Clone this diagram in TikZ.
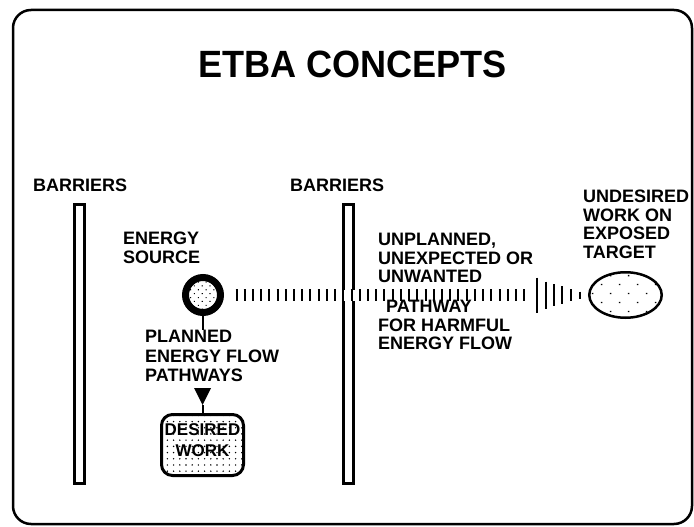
\documentclass[tikz,border=0pt]{standalone}
\usepackage{fontspec}
\setmainfont{Liberation Sans}
\usetikzlibrary{shapes.geometric,patterns.meta}
\tikzset{
  lbl/.style={anchor=north west, inner sep=0pt, align=left, font=\bfseries\fontsize{18}{18.5}\selectfont},
  barrier/.style={draw, line width=2.5pt, fill=white, minimum width=10pt, minimum height=279pt, inner sep=0pt},
  tickrow/.style={line width=12pt, dash pattern=on 2pt off 6.22pt},
  tickmark/.style={line width=2pt},
  frame/.style={line width=2.5pt, rounded corners=18pt},
}
\begin{document}
\begin{tikzpicture}[x=1pt,y=-1pt]
\useasboundingbox (0,0) rectangle (694,527);
\draw[frame] (13,10) rectangle (692,524);
\node[font=\bfseries\fontsize{38}{40}\selectfont, inner sep=0pt] (title) at (352.5,64) {\scalebox{0.95}[1]{ETBA CONCEPTS}};

% barriers
\node[barrier] (bar1) at (79.5,344) {};
\node[barrier] (bar2) at (348.5,344) {};
\node[lbl] (b1) at (33,179) {BARRIERS};
\node[lbl] (b2) at (290,179) {BARRIERS};

% energy source
\node[draw, circle, line width=7pt, minimum size=35pt, inner sep=0pt,
      pattern={Dots[distance=5.5pt,radius=0.75pt,angle=45]}] (src) at (203,295) {};
\node[lbl] (es) at (123,232) {ENERGY\\SOURCE};

% planned pathway
\node[lbl, font=\bfseries\fontsize{18}{19.5}\selectfont] (plan) at (145,330) {PLANNED\\ENERGY FLOW\\PATHWAYS};
\draw[line width=2pt] (src.south) -- (src.south |- plan.north);

% desired work
\node[draw, rectangle, rounded corners=11pt, line width=3pt, minimum width=82pt, minimum height=61pt,
      inner sep=0pt, pattern={Dots[distance=6.2pt,radius=0.8pt]}] (des) at (202.5,445) {};
\node[inner sep=0pt, align=center, font=\bfseries\fontsize{17}{21}\selectfont] (destext) at ([yshift=5pt]des.center) {DESIRED\\WORK};
\coordinate (ptop) at (202.5,388);
\coordinate (ptip) at (202.5,405);
\fill ([xshift=-8.5pt]ptop) -- ([xshift=8.5pt]ptop) -- (ptip) -- cycle;
\draw[line width=2pt] (ptip) -- (ptip |- des.north);

% target
\node[draw, ellipse, line width=2.5pt, minimum width=72.5pt, minimum height=45.5pt, inner sep=0pt,
      pattern={Dots[distance=12.7pt,radius=1pt,angle=45]}] (tgt) at (625.5,295) {};
\node[lbl] (und) at (583,190) {UNDESIRED\\WORK ON\\EXPOSED\\TARGET};

% harmful pathway
\fill[white] (341.5,290) rectangle (355.5,301);
\coordinate (tend) at (531,295);
\draw[tickrow, shorten <=11.5pt] (src.east) -- (tend);
\foreach \x/\h in {537/35, 545.5/27, 553.5/22, 562/18, 571/12, 580/7}
  \draw[tickmark] (\x,295) ++(0,-\h/2) -- ++(0,\h);
\node[lbl] (unpl) at (378,233) {UNPLANNED,\\UNEXPECTED OR\\UNWANTED\\[11.5pt]\hspace*{8pt}PATHWAY\\FOR HARMFUL\\ENERGY FLOW};
\end{tikzpicture}
\end{document}
